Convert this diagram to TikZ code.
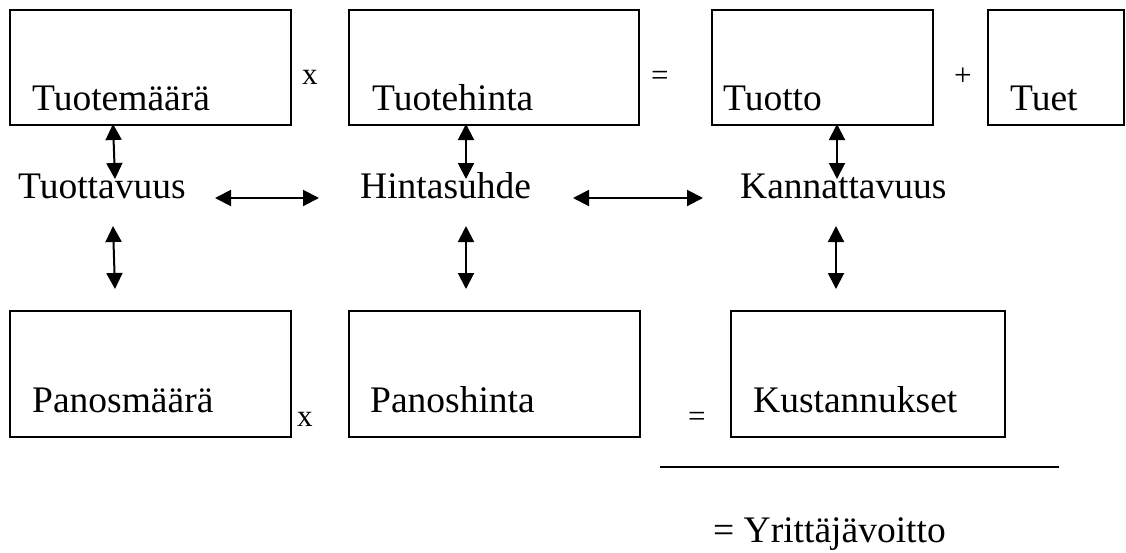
\documentclass[tikz,border=0pt]{standalone}
\usepackage{fontspec}
\setmainfont{Liberation Serif}
\usetikzlibrary{arrows.meta}
\begin{document}
\begin{tikzpicture}[x=1pt,y=-1pt,
  box/.style={draw, line width=1.4pt, anchor=north west, inner sep=0pt, outer sep=0pt},
  lbl/.style={anchor=base west, inner sep=0pt, font=\fontsize{37.5}{44}\selectfont},
  op/.style={anchor=base west, inner sep=0pt, font=\fontsize{31}{36}\selectfont},
  link/.style={line width=2pt, {Triangle[length=16pt,width=16pt]}-{Triangle[length=16pt,width=16pt]}}]
\useasboundingbox (0,0) rectangle (1126,552);

% upper row of boxes
\node[box, minimum width=281pt, minimum height=115pt] (tm) at (10,10) {};
\node[box, minimum width=290pt, minimum height=115pt] (th) at (349,10) {};
\node[box, minimum width=221pt, minimum height=115pt] (tt) at (712,10) {};
\node[box, minimum width=136pt, minimum height=115pt] (tu) at (988,10) {};
\node[lbl] (tmL) at (32,110) {Tuotemäärä};
\node[lbl] (thL) at (372,110) {Tuotehinta};
\node[lbl] (ttL) at (723,110) {Tuotto};
\node[lbl] (tuL) at (1010,110) {Tuet};
\node[op] (op1) at (302,84) {x};
\node[op] (op2) at (651,85) {=};
\node[op] (op3) at (954,85) {+};

% middle row of ratios
\node[lbl] (pr) at (18,198) {Tuottavuus};
\node[lbl] (hs) at (360,198) {Hintasuhde};
\node[lbl] (ka) at (740,198) {Kannattavuus};

% lower row of boxes
\node[box, minimum width=281pt, minimum height=126pt] (pm) at (10,311) {};
\node[box, minimum width=291pt, minimum height=126pt] (ph) at (349,311) {};
\node[box, minimum width=274pt, minimum height=126pt] (ku) at (731,311) {};
\node[lbl] (pmL) at (32,412) {Panosmäärä};
\node[lbl] (phL) at (370,412) {Panoshinta};
\node[lbl] (kuL) at (753,412) {Kustannukset};
\node[op] (op4) at (297,426) {x};
\node[op] (op5) at (688,426) {=};

% result line
\coordinate (rl) at (660,467);
\coordinate (rr) at (1059,467);
\draw[line width=1.5pt] (rl) -- (rr);
\node[lbl] (yv) at (713,542) {= Yrittäjävoitto};

% arrow end points
\coordinate (a1t) at (113,124);
\coordinate (a1b) at (115,179);
\coordinate (a2t) at (466,124);
\coordinate (a2b) at (466,179);
\coordinate (a3t) at (837,124);
\coordinate (a3b) at (837,179);
\coordinate (b1t) at (113,226);
\coordinate (b1b) at (115,289);
\coordinate (b2t) at (466,226);
\coordinate (b2b) at (466,289);
\coordinate (b3t) at (836,226);
\coordinate (b3b) at (836,289);
\coordinate (h1l) at (215,198);
\coordinate (h1r) at (319,198);
\coordinate (h2l) at (573,198);
\coordinate (h2r) at (703,198);

\draw[link] (a1t) -- (a1b);
\draw[link] (a2t) -- (a2b);
\draw[link] (a3t) -- (a3b);
\draw[link] (b1t) -- (b1b);
\draw[link] (b2t) -- (b2b);
\draw[link] (b3t) -- (b3b);
\draw[link] (h1l) -- (h1r);
\draw[link] (h2l) -- (h2r);
\end{tikzpicture}
\end{document}
